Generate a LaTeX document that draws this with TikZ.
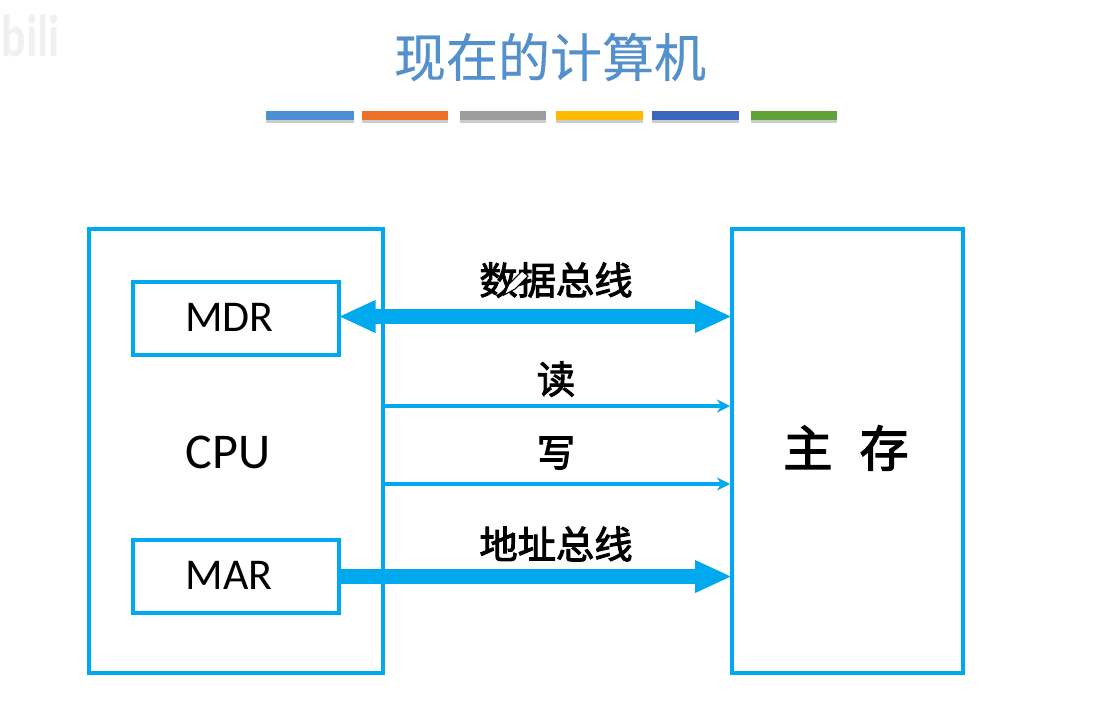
\documentclass[tikz,border=0pt]{standalone}
\usepackage{fontspec}
\setmainfont{Carlito}
\newfontfamily\cjk[FakeBold=0.3]{Noto Sans CJK SC}
\newfontfamily\cjkm[FakeBold=2.5]{Noto Sans CJK SC}
\usetikzlibrary{arrows.meta}
\usetikzlibrary{shadows}
\definecolor{busblue}{HTML}{00A8EE}
\definecolor{titleblue}{HTML}{5490CC}
\definecolor{barblue}{HTML}{4A90D2}
\definecolor{barorange}{HTML}{EE7028}
\definecolor{bargray}{HTML}{9C9C9C}
\definecolor{baryellow}{HTML}{FFB900}
\definecolor{bardark}{HTML}{3A66BE}
\definecolor{bargreen}{HTML}{5FA23A}
\tikzset{
    box/.style={draw=busblue,line width=4*0.02cm,inner sep=0pt,fill=white},
    reg/.style={box,minimum width=206*0.02cm,minimum height=73*0.02cm},
    regtext/.style={font=\fontsize{25}{27}\selectfont,inner sep=0pt},
    bus/.style={font=\cjkm\fontsize{21.8}{24}\selectfont,inner sep=0pt},
    bigline/.style={busblue,line width=15*0.02cm},
    smallline/.style={busblue,line width=3.5*0.02cm},
    bar/.style={inner sep=0pt,minimum height=9*0.02cm,drop shadow={shadow xshift=0pt,shadow yshift=-1.6pt,opacity=0.4}},
    pen/.style={black,fill=white,line width=0.6pt}
}
\begin{document}
\begin{tikzpicture}[x=0.02cm,y=-0.02cm]
    \useasboundingbox (0,0) rectangle (1102,701);
    \node[font=\bfseries\fontsize{26}{28}\selectfont,text=black!6,inner sep=0pt] (logo) at (31,36) {\scalebox{1}[1.3]{bili}};
    \node[font=\cjk\fontsize{29.6}{32}\selectfont,text=titleblue,inner sep=0pt] (title) at (550,57) {现在的计算机};
    \foreach \nm/\xa/\barw/\col in {a/310/88/barblue,b/405/86/barorange,c/503/86/bargray,d/599.5/87/baryellow,e/695.5/87/bardark,f/794/86/bargreen}
        \node[bar,fill=\col,minimum width=\barw*0.02cm] (bar\nm) at (\xa,115.5) {};
    \node[box,minimum width=294*0.02cm,minimum height=444*0.02cm] (cpu) at (236,451) {};
    \node[box,minimum width=231*0.02cm,minimum height=444*0.02cm] (mem) at (847.5,451) {};
    \node[reg] (mdr) at (235.5,318) {};
    \node[reg] (mar) at (235.5,576.5) {};
    \node[regtext] (mdrtext) at (229.5,317) {MDR};
    \node[regtext] (martext) at (229,575) {MAR};
    \node[font=\fontsize{28.5}{30}\selectfont,inner sep=0pt] (cputext) at (228,452) {CPU};
    \node[font=\cjkm\fontsize{28}{30}\selectfont,inner sep=0pt] (memtext) at (846,448) {主\hspace{0.55em}存};
    \coordinate (rd) at (383,406);
    \coordinate (wr) at (383,484);
    \coordinate (mdrport) at (mdr.east);
    \coordinate (marport) at (mar.east);
    \draw[bigline,{Triangle[length=37*0.02cm,width=30*0.02cm]}-{Triangle[length=37*0.02cm,width=30*0.02cm]},shorten <=-2*0.02cm,shorten >=-2*0.02cm] ([yshift=1.5*0.02cm]mdrport) -- ([yshift=1.5*0.02cm]mdrport -| mem.west);
    \draw[bigline,-{Triangle[length=37*0.02cm,width=30*0.02cm]},shorten >=-2*0.02cm] (marport) -- (marport -| mem.west);
    \draw[smallline,-{Stealth[length=13*0.02cm,width=13*0.02cm]}] (rd) -- (rd -| mem.west);
    \draw[smallline,-{Stealth[length=13*0.02cm,width=13*0.02cm]}] (wr) -- (wr -| mem.west);
    \node[bus] (dbus) at (556,280) {数据总线};
    \node[bus] (rdtext) at (556,379) {读};
    \node[bus] (wrtext) at (556,453) {写};
    \node[bus] (abus) at (556,544) {地址总线};
    % pen cursor
    \draw[pen] (504,295) -- (509,284) -- (522,271) -- (528,276) -- (515,289) -- cycle;
\end{tikzpicture}
\end{document}
